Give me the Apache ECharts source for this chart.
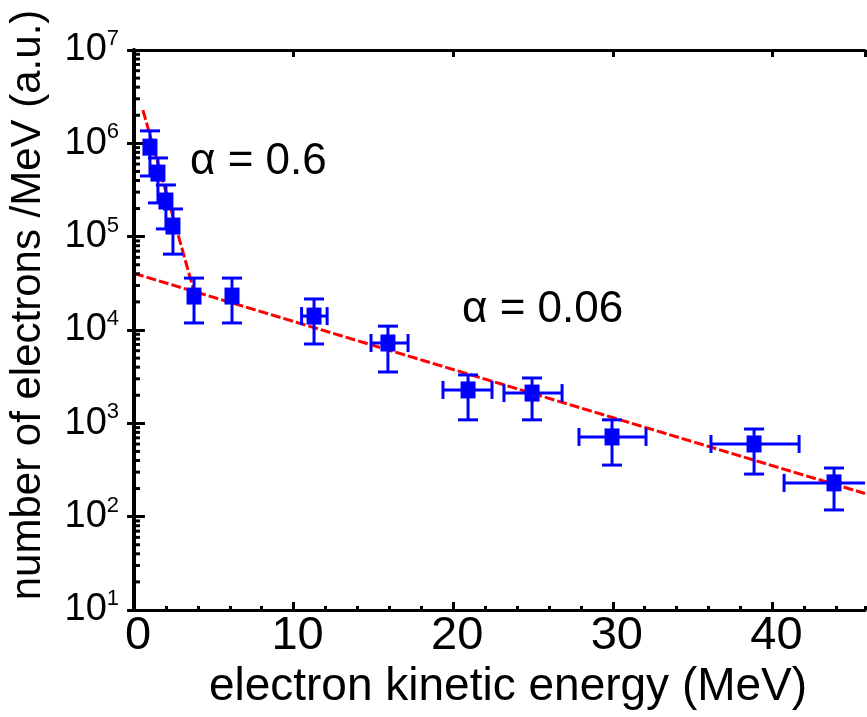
<!DOCTYPE html>
<html><head><meta charset="utf-8">
<script src="https://cdn.jsdelivr.net/npm/echarts@6/dist/echarts.min.js"></script>
<style>html,body{margin:0;padding:0;background:#fff}#c{width:867px;height:717px}</style>
</head><body><div id="c"></div>
<script>
// ---- data ----
const energy     = [1.0, 1.5, 2.0, 2.44, 3.76, 6.14, 11.28, 15.91, 20.93, 24.94, 29.95, 38.85, 43.86];
const counts     = [9.1e5, 4.8e5, 2.41e5, 1.30e5, 2.31e4, 2.31e4, 1.41e4, 7.26e3, 2.28e3, 2.11e3, 715, 601, 230];
const energyLow  = [1.0, 1.5, 2.0, 2.44, 3.76, 6.14, 10.5, 14.85, 19.36, 23.18, 27.88, 36.15, 40.73];
const energyHigh = [1.0, 1.5, 2.0, 2.44, 3.76, 6.14, 12.1, 17.17, 22.43, 26.82, 32.08, 41.67, 47.0];
const countsLow  = [4.47e5, 2.3e5, 1.21e5, 6.5e4, 1.19e4, 1.19e4, 7.08e3, 3.55e3, 1.09e3, 1.09e3, 357, 286, 118];
const countsHigh = [1.36e6, 6.97e5, 3.58e5, 1.98e5, 3.6e4, 3.6e4, 2.15e4, 1.10e4, 3.3e3, 3.06e3, 1.09e3, 869, 332];
const fitSteep   = [[0.56, 2.27e6], [3.82, 2.39e4]];
const fitShallow = [[0, 4.04e4], [45.8, 177]];
const xTickLabels = ['0', '10', '20', '30', '40'];
const yTickExponents = [1, 2, 3, 4, 5, 6, 7];
const xMin = 0, xMax = 45.8, yMin = 10, yMax = 1e7;

// log minor tick positions (2..9 x 10^n)
const yMinorTicks = [];
for (let i = 0; i < yTickExponents.length - 1; i++) {
  for (let k = 2; k <= 9; k++) yMinorTicks.push([xMin, k * Math.pow(10, yTickExponents[i])]);
}

const FONT = '"Liberation Sans", Arial, Helvetica, sans-serif';
const points = energy.map((e, i) => [e, counts[i], energyLow[i], energyHigh[i], countsLow[i], countsHigh[i]]);

const chart = echarts.init(document.getElementById('c'), null, {renderer: 'canvas'});
const black = '#000';
chart.setOption({
  animation: false,
  backgroundColor: '#fff',
  grid: {left: 134, right: 2, top: 50, bottom: 107, containLabel: false},
  xAxis: [
    {type: 'value', min: xMin, max: xMax, interval: 10, position: 'bottom',
     axisLine: {lineStyle: {color: black, width: 3}},
     axisTick: {inside: true, length: 8, lineStyle: {color: black, width: 3}},
     axisLabel: {color: black, fontFamily: FONT, fontSize: 47, margin: 3, showMaxLabel: false,
                 padding: [0, 0, 0, 8],
                 formatter: v => { const i = Math.round(v / 10); return (Math.abs(v - i * 10) < 1e-6 && xTickLabels[i] !== undefined) ? xTickLabels[i] : ''; }},
     splitLine: {show: false}},
    {type: 'value', min: xMin, max: xMax, interval: 2, position: 'bottom',
     axisLine: {show: false},
     axisTick: {inside: true, length: 4, lineStyle: {color: black, width: 3}},
     axisLabel: {show: false}, splitLine: {show: false}},
    {type: 'value', min: xMin, max: xMax, interval: 10, position: 'top',
     axisLine: {lineStyle: {color: black, width: 3}},
     axisTick: {inside: true, length: 7, lineStyle: {color: black, width: 3}},
     axisLabel: {show: false}, splitLine: {show: false}}
  ],
  yAxis: [
    {type: 'log', logBase: 10, min: yMin, max: yMax, interval: 1, position: 'left',
     axisLine: {lineStyle: {color: black, width: 4}},
     axisTick: {inside: true, length: 11, lineStyle: {color: black, width: 3}},
     axisLabel: {margin: 15, color: black,
       formatter: v => '{b|10}{e|' + Math.round(Math.log10(v)) + '}',
       rich: {
         b: {fontFamily: FONT, fontSize: 38, lineHeight: 44, color: black},
         e: {fontFamily: FONT, fontSize: 22, lineHeight: 22, color: black, verticalAlign: 'top'}
       }},
     splitLine: {show: false}},
    {type: 'log', logBase: 10, min: yMin, max: yMax, interval: 1, position: 'right',
     axisLine: {lineStyle: {color: black, width: 3}},
     axisTick: {inside: true, length: 7, lineStyle: {color: black, width: 3}},
     axisLabel: {show: false}, splitLine: {show: false}}
  ],
  series: [
    {type: 'line', data: fitSteep, xAxisIndex: 0, yAxisIndex: 0, symbol: 'none', silent: true,
     lineStyle: {color: '#ff0000', width: 3, type: [10, 3]}, z: 2},
    {type: 'line', data: fitShallow, xAxisIndex: 0, yAxisIndex: 0, symbol: 'none', silent: true,
     lineStyle: {color: '#ff0000', width: 3, type: [10, 3]}, z: 2},
    {type: 'custom', data: yMinorTicks, xAxisIndex: 0, yAxisIndex: 0, silent: true, clip: false, z: 5,
     renderItem: (params, api) => {
       const c = api.coord([api.value(0), api.value(1)]);
       return {type: 'line', shape: {x1: c[0], y1: c[1], x2: c[0] + 6, y2: c[1]},
               style: {stroke: black, lineWidth: 3}};
     }},
    {type: 'custom', data: points, xAxisIndex: 0, yAxisIndex: 0, silent: true, clip: true, z: 4,
     renderItem: (params, api) => {
       const x = api.value(0), y = api.value(1);
       const xl = api.value(2), xh = api.value(3), yl = api.value(4), yh = api.value(5);
       const c = api.coord([x, y]);
       const pl = api.coord([x, yl]), ph = api.coord([x, yh]);
       const st = {stroke: '#0000ff', lineWidth: 3};
       const ch = [];
       ch.push({type: 'line', shape: {x1: c[0], y1: ph[1], x2: c[0], y2: pl[1]}, style: st});
       ch.push({type: 'line', shape: {x1: c[0] - 10, y1: ph[1], x2: c[0] + 10, y2: ph[1]}, style: st});
       ch.push({type: 'line', shape: {x1: c[0] - 10, y1: pl[1], x2: c[0] + 10, y2: pl[1]}, style: st});
       if (xh > xl) {
         const a = api.coord([xl, y]), b = api.coord([xh, y]);
         ch.push({type: 'line', shape: {x1: a[0], y1: c[1], x2: b[0], y2: c[1]}, style: st});
         ch.push({type: 'line', shape: {x1: a[0], y1: c[1] - 9, x2: a[0], y2: c[1] + 9}, style: st});
         ch.push({type: 'line', shape: {x1: b[0], y1: c[1] - 9, x2: b[0], y2: c[1] + 9}, style: st});
       }
       ch.push({type: 'rect', shape: {x: c[0] - 7.5, y: c[1] - 8.5, width: 15, height: 17}, style: {fill: '#0000ff'}});
       return {type: 'group', children: ch};
     }}
  ],
  graphic: [
    {type: 'text', x: 28, y: 305, rotation: Math.PI / 2, silent: true,
     style: {text: 'number of electrons /MeV (a.u.)', fontFamily: FONT, fontSize: 42, fill: black, align: 'center', verticalAlign: 'middle'}},
    {type: 'text', x: 508, y: 687, silent: true,
     style: {text: 'electron kinetic energy (MeV)', fontFamily: FONT, fontSize: 46, fill: black, align: 'center', verticalAlign: 'middle'}},
    {type: 'text', x: 190, y: 162, silent: true,
     style: {text: '\u03b1 = 0.6', fontFamily: FONT, fontSize: 44, fill: black, align: 'left', verticalAlign: 'middle'}},
    {type: 'text', x: 462, y: 310, silent: true,
     style: {text: '\u03b1 = 0.06', fontFamily: FONT, fontSize: 44, fill: black, align: 'left', verticalAlign: 'middle'}}
  ]
});
</script></body></html>
